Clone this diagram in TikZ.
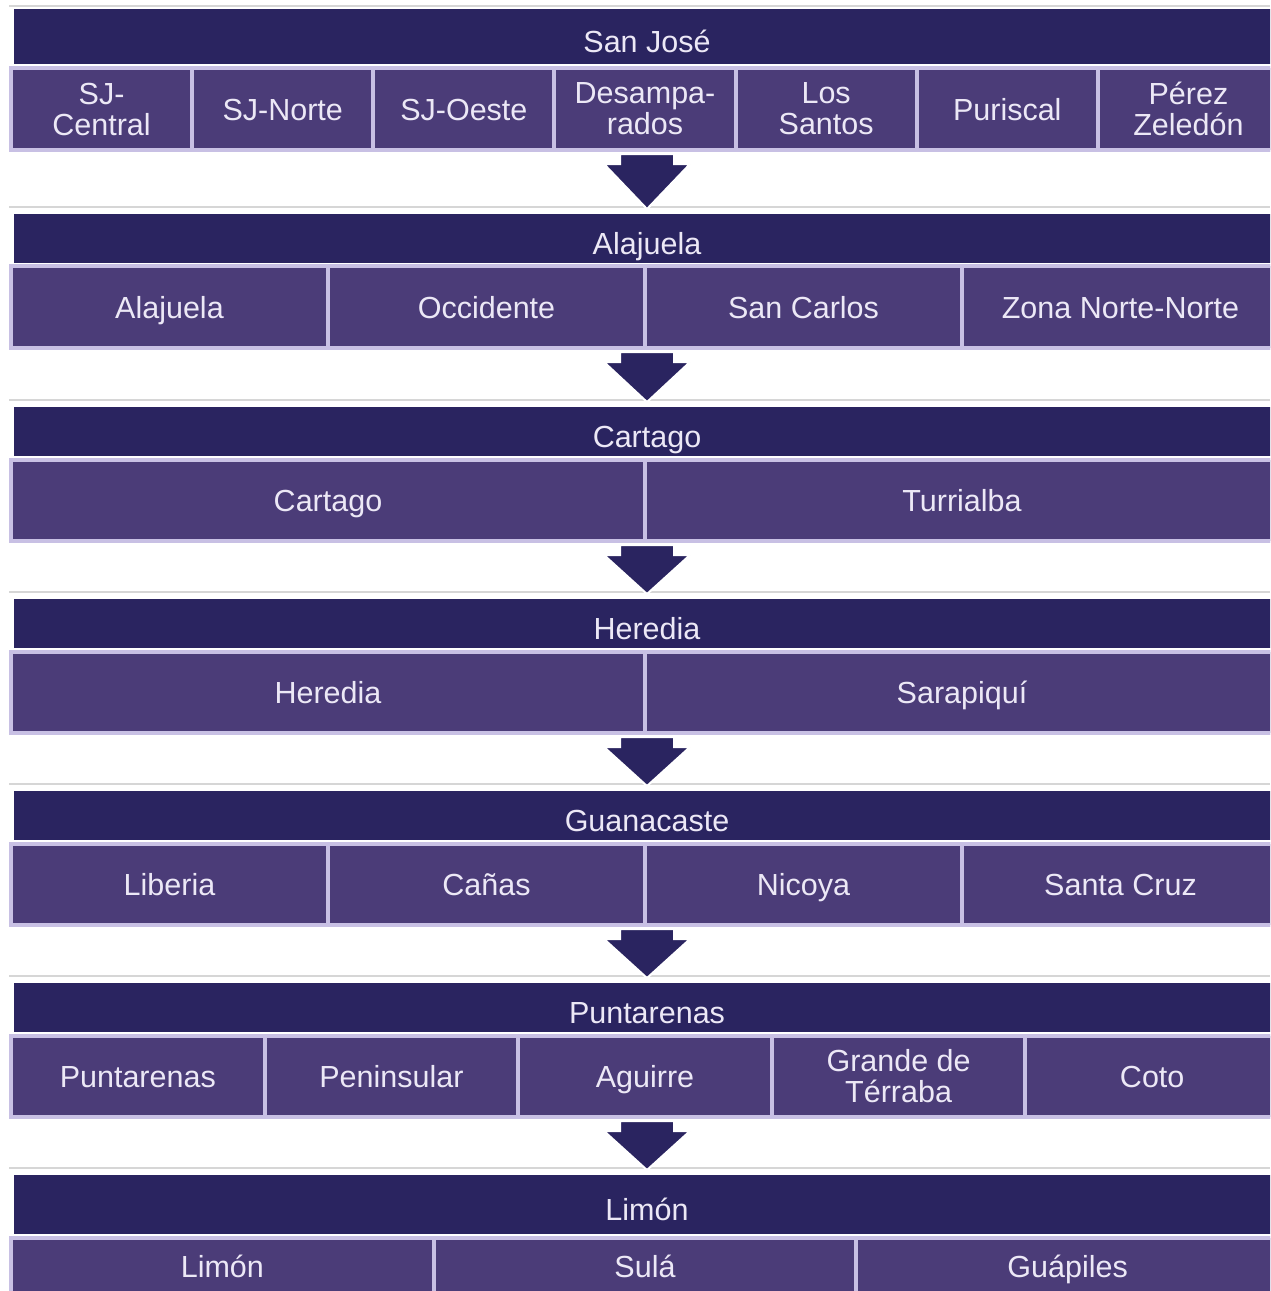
\documentclass[tikz,border=0pt]{standalone}
\usepackage{fontspec}
\setmainfont{Liberation Sans}
\usetikzlibrary{calc}
\definecolor{navy}{HTML}{2A2460}
\definecolor{purp}{HTML}{4B3C78}
\definecolor{lav}{HTML}{C8C0E4}
\definecolor{txt}{HTML}{ECE8F6}
\definecolor{sep}{HTML}{D6D6D6}
\tikzset{
  hdr/.style={fill=navy, draw=none, text=txt, font=\fontsize{30.5}{31}\selectfont,
    minimum width=1266pt, text height=31pt, text depth=0pt, inner sep=0pt, outer sep=0pt},
  rowbg/.style={fill=lav, draw=none, minimum width=1274pt, inner sep=0pt, outer sep=0pt},
  subbox/.style={fill=purp, draw=lav, line width=4pt, text=txt, align=center,
    font=\fontsize{30.5}{31}\selectfont, inner sep=0pt, outer sep=0pt},
  one/.style={text height=22pt, text depth=0pt},
  two/.style={},
  sepline/.style={draw=sep, line width=1.5pt},
  blockarr/.style={fill=navy, draw=white, line width=2pt, line join=miter}
}
\newcommand\subrow[5]{%
  \node[rowbg, minimum height=#3pt+4pt] (#1) at (645.5,#2) {};
  \foreach \t/\s [count=\i] in {#5} {
    \node[subbox, \s, minimum width={1268pt/#4}, minimum height=#3pt] (#1-\i)
      at ({11+(\i-0.5)*1268/#4}, #2) {\t};
  }%
}
\newcommand\blockarrow[2]{%
  \path[blockarr] let \p1=(#1.south), \p2=(#2.north) in
    (\x2-27pt,\y1-2pt) -- (\x2+27pt,\y1-2pt) -- (\x2+27pt,\y1-12pt) --
    (\x2+43pt,\y1-12pt) -- (\x2,\y2+5pt) -- (\x2-43pt,\y1-12pt) --
    (\x2-27pt,\y1-12pt) -- cycle;%
}
\begin{document}
\begin{tikzpicture}[x=1pt,y=-1pt]
\useasboundingbox (0,0) rectangle (1270,1291);
\clip (0,0) rectangle (1270,1291);
\fill[white] (0,0) rectangle (1270,1291);

% separator lines
\foreach \yy in {6,207,400,592,784,976,1168}
  \draw[sepline] (9,\yy) -- (1270,\yy);

% San Jose
\node[hdr, minimum height=55pt] (h1) at (647,36.5) {San José};
\subrow{r1}{109}{82}{7}{SJ-\\Central/two, SJ-Norte/one, SJ-Oeste/one, Desampa-\\rados/two, Los\\Santos/two, Puriscal/one, Pérez\\Zeledón/two}

% Alajuela
\node[hdr, minimum height=49pt] (h2) at (647,238.5) {Alajuela};
\subrow{r2}{307}{82}{4}{Alajuela/one, Occidente/one, San Carlos/one, Zona Norte-Norte/one}

% Cartago
\node[hdr, minimum height=49pt] (h3) at (647,431.5) {Cartago};
\subrow{r3}{500.5}{81}{2}{Cartago/one, Turrialba/one}

% Heredia
\node[hdr, minimum height=49pt] (h4) at (647,623.5) {Heredia};
\subrow{r4}{692.5}{81}{2}{Heredia/one, Sarapiquí/one}

% Guanacaste
\node[hdr, minimum height=49pt] (h5) at (647,815.5) {Guanacaste};
\subrow{r5}{884.5}{81}{4}{Liberia/one, Cañas/one, Nicoya/one, Santa Cruz/one}

% Puntarenas
\node[hdr, minimum height=49pt] (h6) at (647,1007.5) {Puntarenas};
\subrow{r6}{1076.5}{81}{5}{Puntarenas/one, Peninsular/one, Aguirre/one, Grande de\\Térraba/two, Coto/one}

% Limon
\node[hdr, minimum height=59pt] (h7) at (647,1204.5) {Limón};
\subrow{r7}{1266}{56}{3}{Limón/one, Sulá/one, Guápiles/one}

% arrows
\blockarrow{r1}{h2}
\blockarrow{r2}{h3}
\blockarrow{r3}{h4}
\blockarrow{r4}{h5}
\blockarrow{r5}{h6}
\blockarrow{r6}{h7}
\end{tikzpicture}
\end{document}
